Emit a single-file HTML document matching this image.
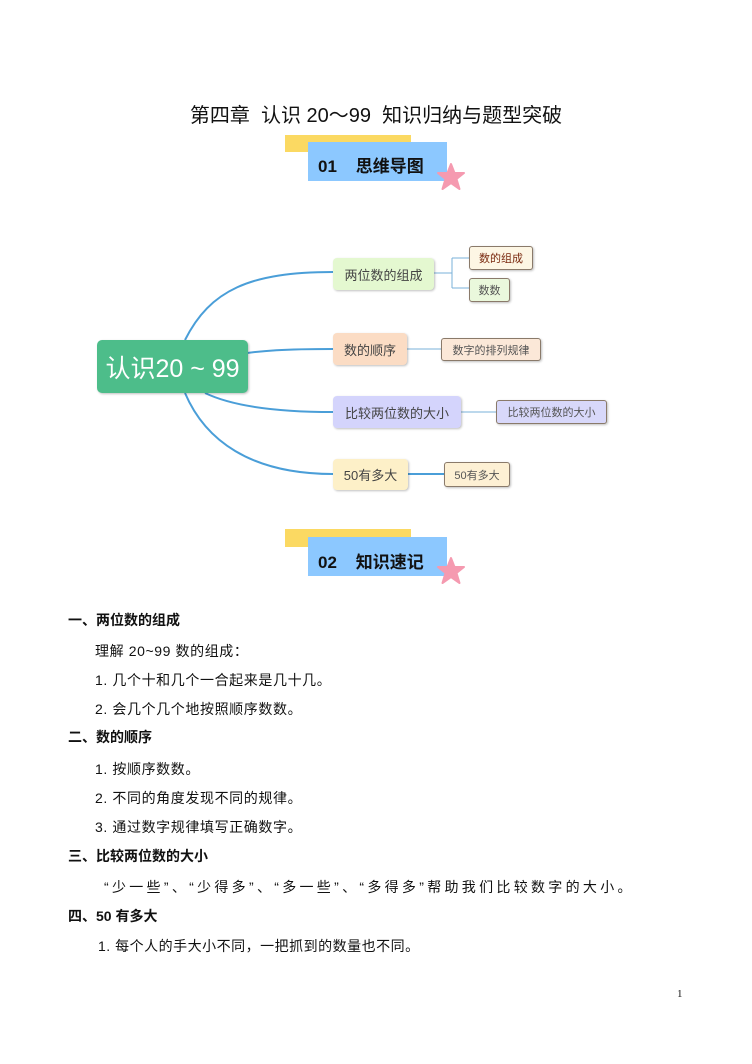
<!DOCTYPE html>
<html><head><meta charset="utf-8"><style>
body{margin:0;background:#fff;}
#p{position:relative;width:752px;height:1064px;overflow:hidden;font-family:"Liberation Sans","Noto Sans CJK SC",sans-serif;color:#111;}
.a{position:absolute;white-space:nowrap;}
.n{position:absolute;box-sizing:border-box;border-radius:4px;display:flex;align-items:center;justify-content:center;font-size:13px;color:#444;box-shadow:1px 1px 2px rgba(0,0,0,.25);}
.c{position:absolute;box-sizing:border-box;border-radius:3px;border:1px solid #8a7a6a;display:flex;align-items:center;justify-content:center;font-size:11px;color:#555;box-shadow:1px 1px 2px rgba(0,0,0,.25);}
.t{font-size:14px;letter-spacing:0.6px;}
.h{font-size:14px;font-weight:bold;}
</style></head><body><div id="p">
<div class="a" style="left:0;width:752px;top:99px;text-align:center;font-size:20px;">第四章&nbsp; 认识 20～99&nbsp; 知识归纳与题型突破</div>

<div class="a" style="left:285px;top:135px;width:126px;height:17px;background:#fbd962;"></div>
<div class="a" style="left:308px;top:142px;width:139px;height:39px;background:#8cc8ff;"></div>
<div class="a" style="left:318px;top:152px;font-size:17px;font-weight:bold;">01&nbsp;&nbsp;&nbsp; 思维导图</div>
<svg class="a" style="left:436px;top:162px" width="30" height="30" viewBox="0 0 30 30"><polygon points="15,2 18.5,11 28,11 20.5,17 23.5,27 15,21 6.5,27 9.5,17 2,11 11.5,11" fill="#f59ab0" stroke="#f59ab0" stroke-width="2" stroke-linejoin="round"/></svg>

<svg class="a" style="left:0;top:0" width="752" height="520">
<g fill="none" stroke="#4a9ed8" stroke-width="2">
<path d="M185 340 C210 290 250 272 333 272"/>
<path d="M228 356 C260 350 290 349 333 349"/>
<path d="M205 393 C230 405 270 412 333 412"/>
<path d="M185 393 C205 440 250 474 333 474"/>
</g>
<g fill="none" stroke="#7ab0d8" stroke-width="1">
<path d="M434 273 H452 M452 258 V288 M452 258 H469 M452 288 H469"/>
<path d="M407 349 H441"/>
<path d="M461 412 H496"/>
</g>
<path d="M408 474 H444" stroke="#4a9ed8" stroke-width="2"/>
</svg>

<div class="n" style="left:97px;top:340px;width:151px;height:53px;background:#4dbd8a;color:#fff;font-size:25px;border-radius:5px;">认识20 ~ 99</div>

<div class="n" style="left:333px;top:258px;width:101px;height:32px;background:#e4f8d0;">两位数的组成</div>
<div class="c" style="left:469px;top:246px;width:64px;height:24px;background:#fdf6e4;color:#7a2a10;">数的组成</div>
<div class="c" style="left:469px;top:278px;width:41px;height:24px;background:#eaf8dc;">数数</div>

<div class="n" style="left:333px;top:333px;width:74px;height:32px;background:#fbdcc4;">数的顺序</div>
<div class="c" style="left:441px;top:338px;width:100px;height:23px;background:#fbe8d8;">数字的排列规律</div>

<div class="n" style="left:333px;top:396px;width:128px;height:32px;background:#d4d4fc;">比较两位数的大小</div>
<div class="c" style="left:496px;top:400px;width:111px;height:24px;background:#d8d8fa;">比较两位数的大小</div>

<div class="n" style="left:333px;top:459px;width:75px;height:31px;background:#fdf0c8;">50有多大</div>
<div class="c" style="left:444px;top:462px;width:66px;height:25px;background:#fdf0d4;">50有多大</div>

<div class="a" style="left:285px;top:529px;width:126px;height:18px;background:#fbd962;"></div>
<div class="a" style="left:308px;top:537px;width:139px;height:39px;background:#8cc8ff;"></div>
<div class="a" style="left:318px;top:548px;font-size:17px;font-weight:bold;">02&nbsp;&nbsp;&nbsp; 知识速记</div>
<svg class="a" style="left:436px;top:556px" width="30" height="30" viewBox="0 0 30 30"><polygon points="15,2 18.5,11 28,11 20.5,17 23.5,27 15,21 6.5,27 9.5,17 2,11 11.5,11" fill="#f59ab0" stroke="#f59ab0" stroke-width="2" stroke-linejoin="round"/></svg>

<div class="a h" style="left:68px;top:610px;">一、两位数的组成</div>
<div class="a t" style="left:95px;top:641px;">理解 20~99 数的组成：</div>
<div class="a t" style="left:95px;top:670px;">1. 几个十和几个一合起来是几十几。</div>
<div class="a t" style="left:95px;top:699px;">2. 会几个几个地按照顺序数数。</div>
<div class="a h" style="left:68px;top:727px;">二、数的顺序</div>
<div class="a t" style="left:95px;top:759px;">1. 按顺序数数。</div>
<div class="a t" style="left:95px;top:788px;">2. 不同的角度发现不同的规律。</div>
<div class="a t" style="left:95px;top:817px;">3. 通过数字规律填写正确数字。</div>
<div class="a h" style="left:68px;top:846px;">三、比较两位数的大小</div>
<div class="a t" style="left:104px;top:877px;letter-spacing:3.3px;">“少一些”、“少得多”、“多一些”、“多得多”帮助我们比较数字的大小。</div>
<div class="a h" style="left:68px;top:906px;">四、50 有多大</div>
<div class="a t" style="left:98px;top:936px;letter-spacing:0.5px;">1. 每个人的手大小不同，一把抓到的数量也不同。</div>

<div class="a" style="left:677px;top:988px;font-size:11px;font-family:'Liberation Serif',serif;">1</div>
</div></body></html>
